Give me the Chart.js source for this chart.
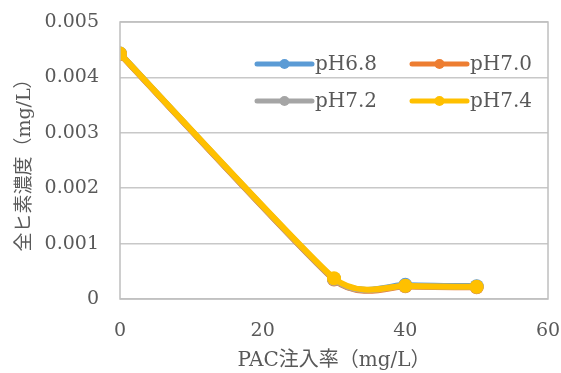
<!DOCTYPE html>
<html>
<head>
<meta charset="utf-8">
<script src="https://cdn.jsdelivr.net/npm/chart.js@4"></script>
<style>
  html, body { margin: 0; padding: 0; background: #fff; }
  #wrap { width: 561px; height: 373px; }
</style>
</head>
<body>
<div id="wrap"><canvas id="chart"></canvas></div>
<script>
// --- Dados ---
const pacDose = [0, 30, 40, 50];
const seriesNames = ['pH6.8', 'pH7.0', 'pH7.2', 'pH7.4'];
const ph68 = [0.00443, 0.00036, 0.000255, 0.00023];
const ph70 = [0.00442, 0.00035, 0.00023, 0.00021];
const ph72 = [0.00443, 0.00036, 0.00024, 0.00022];
const ph74 = [0.00443, 0.000374, 0.00024, 0.00022];
const yTicks = [0, 0.001, 0.002, 0.003, 0.004, 0.005];
const xTicks = [0, 20, 40, 60];

const colors = ['#5B9BD5', '#ED7D31', '#A5A5A5', '#FFC000'];
const FONT = "'DejaVu Serif', 'Noto Sans CJK JP', serif";
const textColor = '#595959';

function toPoints(arr) {
    return arr.map((v, i) => ({ x: pacDose[i], y: v }));
}

const allSeries = [ph68, ph70, ph72, ph74];
const datasets = allSeries.map((vals, i) => ({
    label: seriesNames[i],
    data: toPoints(vals),
    borderColor: colors[i],
    backgroundColor: colors[i],
    borderWidth: 6,
    pointRadius: 7,
    pointHoverRadius: 7,
    pointBorderWidth: 0,
    tension: 0.4,
    order: 3 - i
}));

// --- Suavização tipo Excel: pontos de controle a partir dos pixels da escala ---
const SMOOTH_K = 0.09;
const excelSmooth = {
    id: 'excelSmooth',
    beforeDatasetDraw(chart, args) {
        const meta = args.meta;
        const line = meta.dataset;
        line.updateControlPoints(chart.chartArea, meta.iScale.axis);
        const pts = line.points;
        const n = pts.length;
        pts.forEach((p, i) => {
            const prev = pts[Math.max(i - 1, 0)];
            const next = pts[Math.min(i + 1, n - 1)];
            const dx = (next.x - prev.x) * SMOOTH_K;
            const dy = (next.y - prev.y) * SMOOTH_K;
            p.cp1x = p.x - dx; p.cp1y = p.y - dy;
            p.cp2x = p.x + dx; p.cp2y = p.y + dy;
        });
        line._path = undefined;
    }
};

// --- Legenda e moldura ---
const frameAndLegend = {
    id: 'frameAndLegend',
    afterDraw(chart) {
        const ctx = chart.ctx;
        const a = chart.chartArea;
        ctx.save();
        ctx.strokeStyle = '#bfbfbf';
        ctx.lineWidth = 1.5;
        ctx.strokeRect(a.left, a.top, a.right - a.left, a.bottom - a.top);

        const colX = [257, 412];
        const rowY = [64, 101];
        chart.data.datasets.forEach((ds, i) => {
            const x = colX[i % 2];
            const y = rowY[Math.floor(i / 2)];
            ctx.strokeStyle = ds.borderColor;
            ctx.lineWidth = 5;
            ctx.lineCap = 'round';
            ctx.beginPath();
            ctx.moveTo(x, y);
            ctx.lineTo(x + 55, y);
            ctx.stroke();
            ctx.fillStyle = ds.borderColor;
            ctx.beginPath();
            ctx.arc(x + 27.5, y, 5, 0, Math.PI * 2);
            ctx.fill();
            ctx.fillStyle = textColor;
            ctx.font = '20px ' + FONT;
            ctx.textAlign = 'left';
            ctx.textBaseline = 'middle';
            ctx.fillText(ds.label, x + 58, y + 1);
        });
        ctx.restore();
    }
};

new Chart(document.getElementById('chart'), {
    type: 'line',
    data: { datasets },
    plugins: [excelSmooth, frameAndLegend],
    options: {
        responsive: true,
        maintainAspectRatio: false,
        animation: false,
        layout: { padding: { top: 22, right: 13, left: 0, bottom: 0 } },
        plugins: { legend: { display: false }, tooltip: { enabled: false } },
        scales: {
            x: {
                type: 'linear',
                min: 0, max: 60,
                afterBuildTicks: s => { s.ticks = xTicks.map(v => ({ value: v })); },
                afterFit: s => { s.height = 74; s.paddingLeft = 0; s.paddingRight = 0; },
                grid: { display: false },
                border: { display: false },
                ticks: { color: textColor, font: { family: FONT, size: 19 }, padding: 13, maxRotation: 0 },
                title: {
                    display: true,
                    text: 'PAC注入率（mg/L）',
                    color: textColor,
                    font: { family: FONT, size: 20 },
                    padding: { top: 13, bottom: 0 }
                }
            },
            y: {
                min: 0, max: 0.005,
                afterBuildTicks: s => { s.ticks = yTicks.map(v => ({ value: v })); },
                afterFit: s => { s.width = 120; s.paddingTop = 0; s.paddingBottom = 0; },
                grid: { color: '#c8c8c8', lineWidth: 1.5, drawTicks: false },
                border: { display: false },
                ticks: {
                    color: textColor,
                    font: { family: FONT, size: 19 },
                    padding: 21,
                    callback: v => String(Number(v.toFixed(3)))
                },
                title: {
                    display: true,
                    text: '全ヒ素濃度（mg/L）',
                    color: textColor,
                    font: { family: FONT, size: 19 },
                    padding: { top: 14, bottom: 4 }
                }
            }
        }
    }
});
</script>
</body>
</html>
